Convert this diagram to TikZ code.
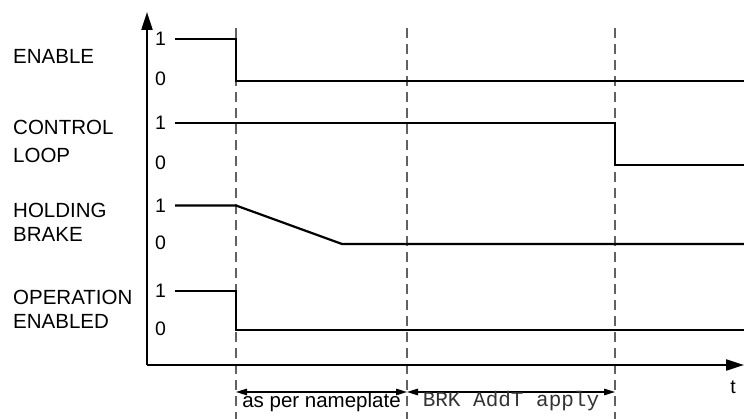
\documentclass[tikz,border=0pt]{standalone}
\usepackage{fontspec}
\setmainfont{Liberation Sans}
\newfontfamily\monofont{Liberation Mono}
\usetikzlibrary{arrows.meta}

\begin{document}
\begin{tikzpicture}[x=1pt,y=-1pt,
    segnale/.style={line width=2.2pt},
    asse/.style={line width=2.2pt,-{Triangle[length=18pt,width=11pt]}},
    tratteggio/.style={line width=1.4pt,color=black!62,dash pattern=on 10pt off 6pt},
    quota/.style={line width=1.3pt,{Triangle[length=11pt,width=6.5pt]}-{Triangle[length=11pt,width=6.5pt]}},
    etichetta/.style={anchor=west,align=left,inner sep=0pt,font=\fontsize{20.5}{24}\selectfont},
    livello/.style={inner sep=0pt,font=\fontsize{19.5}{23}\selectfont}]
    % riquadro
    \useasboundingbox (0,0) rectangle (744,419);

    % parametri
    \def\xo{147}
    \def\xs{175}
    \def\xa{236}
    \def\xb{407}
    \def\xc{615}
    \def\xe{744}

    % linee tratteggiate
    \foreach \x in {\xa,\xb,\xc}
        \draw[tratteggio] (\x,28) -- (\x,419);

    % assi
    \coordinate (O) at (\xo,365);
    \coordinate (Ytop) at (\xo,12);
    \coordinate (Xend) at (\xe,365);
    \draw[asse] (O) -- (Ytop);
    \draw[asse] (O) -- (Xend);
    \node[livello] (t) at (733,387) {t};

    % segnali
    \draw[segnale] (\xs,39) -- (\xa,39) -- (\xa,81) -- (\xe,81);
    \draw[segnale] (\xs,123) -- (\xc,123) -- (\xc,165) -- (\xe,165);
    \draw[segnale] (\xs,205.5) -- (\xa,205.5) -- (342,244) -- (\xe,244);
    \draw[segnale] (\xs,291) -- (\xa,291) -- (\xa,330) -- (\xe,330);

    % livelli 1 e 0
    \foreach \yu/\yz/\n in {39/79/en,123/163/cl,205.5/243/hb,291/329/op} {
        \node[livello] (uno-\n) at (160.5,\yu) {1};
        \node[livello] (zero-\n) at (160.5,\yz) {0};
    }

    % nomi dei segnali
    \node[etichetta] (enable) at (13,56.7) {ENABLE};
    \node[etichetta] (control) at (13,141) {CONTROL\\[4pt]LOOP};
    \node[etichetta] (holding) at (13,222) {HOLDING\\BRAKE};
    \node[etichetta] (operation) at (13,309) {OPERATION\\ENABLED};

    % quote
    \coordinate (q1) at (\xa,392);
    \coordinate (q2) at (\xb,392);
    \coordinate (q3) at (\xc,392);
    \draw[quota] (q1) -- (q2);
    \draw[quota] (q2) -- (q3);
    \node[anchor=base,inner sep=0pt,font=\fontsize{20.5}{24}\selectfont] (targa) at (321.5,407) {as per nameplate};
    \node[anchor=base,inner sep=0pt,text=black!80,font=\monofont\fontsize{21}{24}\selectfont] (brk) at (511,406) {BRK AddT apply};
\end{tikzpicture}
\end{document}
